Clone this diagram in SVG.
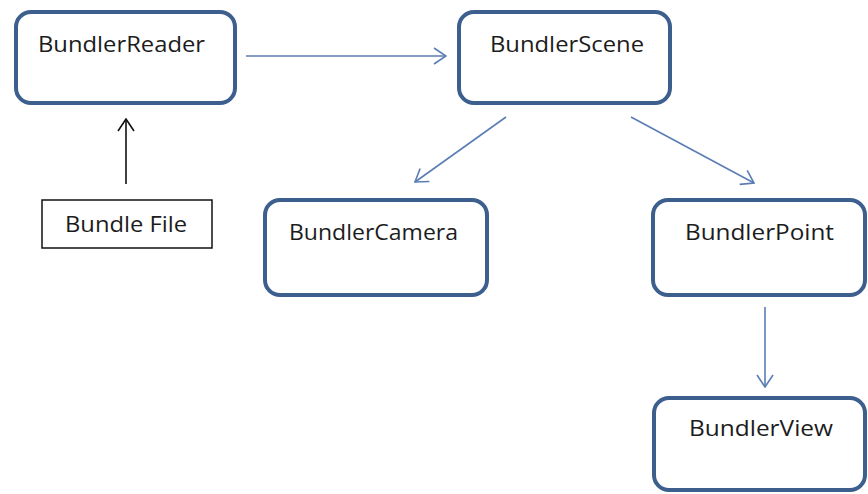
<svg xmlns="http://www.w3.org/2000/svg" width="868" height="494" viewBox="0 0 868 494">
<style>
.box{fill:#fff;stroke:#3d5f8d;stroke-width:4}
.plain{fill:#fff;stroke:#111;stroke-width:1.5}
.lbl{font-family:"Open Sans","Liberation Sans",sans-serif;font-size:21px;fill:#1c1c1c}
.con{fill:none;stroke:#5a7db5;stroke-width:1.6}
.blk{fill:none;stroke:#111;stroke-width:1.6}
</style>
<defs>
<marker id="ab" viewBox="0 0 14 18" refX="13" refY="9" markerWidth="14" markerHeight="18" markerUnits="userSpaceOnUse" orient="auto">
<path d="M1,1 L13,9 L1,17" fill="none" stroke="#5a7db5" stroke-width="1.6"/>
</marker>
<marker id="ak" viewBox="0 0 14 18" refX="13" refY="9" markerWidth="14" markerHeight="18" markerUnits="userSpaceOnUse" orient="auto">
<path d="M1,1 L13,9 L1,17" fill="none" stroke="#111" stroke-width="1.6"/>
</marker>
</defs>
<rect width="868" height="494" fill="#fff"/>
<g id="connectors">
<line class="con" x1="246" y1="56" x2="446" y2="56" marker-end="url(#ab)"/>
<line class="blk" x1="126" y1="184" x2="126" y2="119" marker-end="url(#ak)"/>
<line class="con" x1="506" y1="117" x2="415" y2="182" marker-end="url(#ab)"/>
<line class="con" x1="631" y1="117" x2="754" y2="183" marker-end="url(#ab)"/>
<line class="con" x1="765" y1="307" x2="765" y2="387" marker-end="url(#ab)"/>
</g>
<g id="BundlerReader">
<rect class="box" x="16" y="12" width="219" height="91" rx="15"/>
<text class="lbl" x="38" y="52" textLength="167" lengthAdjust="spacingAndGlyphs">BundlerReader</text>
</g>
<g id="BundlerScene">
<rect class="box" x="459" y="12" width="211" height="91" rx="15"/>
<text class="lbl" x="490" y="52" textLength="154" lengthAdjust="spacingAndGlyphs">BundlerScene</text>
</g>
<g id="BundleFile">
<rect class="plain" x="42" y="200" width="170" height="48"/>
<text class="lbl" x="65" y="232" textLength="122" lengthAdjust="spacingAndGlyphs">Bundle File</text>
</g>
<g id="BundlerCamera">
<rect class="box" x="265" y="200" width="222" height="95" rx="15"/>
<text class="lbl" x="289" y="240" textLength="169" lengthAdjust="spacingAndGlyphs">BundlerCamera</text>
</g>
<g id="BundlerPoint">
<rect class="box" x="653" y="200" width="212" height="95" rx="15"/>
<text class="lbl" x="685" y="240" textLength="149" lengthAdjust="spacingAndGlyphs">BundlerPoint</text>
</g>
<g id="BundlerView">
<rect class="box" x="654" y="398" width="211" height="92" rx="15"/>
<text class="lbl" x="689" y="436" textLength="144" lengthAdjust="spacingAndGlyphs">BundlerView</text>
</g>
</svg>
